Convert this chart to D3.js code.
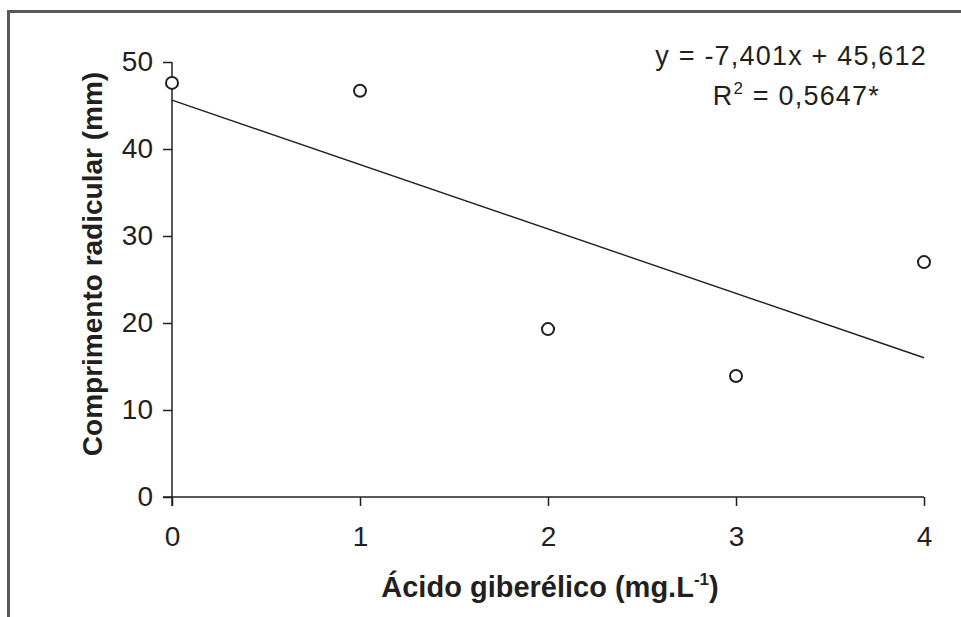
<!DOCTYPE html>
<html>
<head>
  <meta charset="utf-8">
  <title>Comprimento radicular</title>
  <script src="https://cdn.jsdelivr.net/npm/d3@7"></script>
  <style>
    body { margin: 0; background: #fff; }
    text { font-family: 'Liberation Sans', Arial, sans-serif; fill: #231f20; }
  </style>
</head>
<body>
<script>
// data
var doses = [0, 1, 2, 3, 4];
var comprimento = [47.6, 46.7, 19.3, 13.9, 27.0];
var yTicks = [0, 10, 20, 30, 40, 50];
var xTicks = [0, 1, 2, 3, 4];
var slope = -7.401, intercept = 45.612;

var width = 961, height = 617;

var svg = d3.select('body').append('svg')
  .attr('width', width)
  .attr('height', height);

// gray frame (top and left only)
svg.append('path')
  .attr('d', 'M8.5,617 V11.5 H961')
  .attr('fill', 'none')
  .attr('stroke', '#595959')
  .attr('stroke-width', 3);

var x = d3.scaleLinear().domain([0, 4]).range([172, 924]);
var y = d3.scaleLinear().domain([0, 50]).range([497, 62]);

var ink = '#231f20';

var yAxis = svg.append('g')
  .attr('transform', 'translate(172,0)')
  .call(d3.axisLeft(y).tickValues(yTicks).tickFormat(d3.format('d')).tickSize(9).tickPadding(10));

var xAxis = svg.append('g')
  .attr('transform', 'translate(0,497)')
  .call(d3.axisBottom(x).tickValues(xTicks).tickFormat(d3.format('d')).tickSize(9).tickPadding(20));

[xAxis, yAxis].forEach(function(a) {
  a.select('.domain').remove();
  a.selectAll('line').attr('stroke', ink).attr('stroke-width', 1.5);
  a.selectAll('text').attr('font-size', 28).attr('fill', ink)
    .style('font-family', "'Liberation Sans', Arial, sans-serif");
});

// axis lines
svg.append('line')
  .attr('x1', 172).attr('x2', 172).attr('y1', y(50)).attr('y2', 506)
  .attr('stroke', ink).attr('stroke-width', 1.5);
svg.append('line')
  .attr('x1', 163).attr('x2', x(4)).attr('y1', y(0)).attr('y2', y(0))
  .attr('stroke', ink).attr('stroke-width', 1.5);

// regression line
svg.append('line')
  .attr('x1', x(0)).attr('y1', y(intercept))
  .attr('x2', x(4)).attr('y2', y(intercept + slope * 4))
  .attr('stroke', ink).attr('stroke-width', 1.4);

// observed points
svg.selectAll('circle.pt')
  .data(doses)
  .enter()
  .append('circle')
  .attr('class', 'pt')
  .attr('cx', function(d) { return x(d); })
  .attr('cy', function(d, i) { return y(comprimento[i]); })
  .attr('r', 6)
  .attr('fill', '#fff')
  .attr('stroke', ink)
  .attr('stroke-width', 2);

// equation
svg.append('text')
  .attr('x', 927).attr('y', 65)
  .attr('text-anchor', 'end')
  .attr('font-size', 27)
  .attr('letter-spacing', 1.2)
  .text('y = -7,401x + 45,612');

var r2 = svg.append('text')
  .attr('x', 880).attr('y', 105)
  .attr('text-anchor', 'end')
  .attr('font-size', 27)
  .attr('letter-spacing', 1.2);
r2.append('tspan').text('R');
r2.append('tspan').attr('dy', -11).attr('font-size', 17).text('2');
r2.append('tspan').attr('dy', 11).text(' = 0,5647*');

// axis titles
svg.append('text')
  .attr('transform', 'translate(102,264) rotate(-90)')
  .attr('text-anchor', 'middle')
  .attr('font-size', 28)
  .attr('font-weight', 'bold')
  .text('Comprimento radicular (mm)');

var xt = svg.append('text')
  .attr('x', 550).attr('y', 597)
  .attr('text-anchor', 'middle')
  .attr('font-size', 29)
  .attr('font-weight', 'bold');
xt.append('tspan').text('Ácido giberélico (mg.L');
xt.append('tspan').attr('dy', -12).attr('font-size', 17).text('-1');
xt.append('tspan').attr('dy', 12).text(')');
</script>
</body>
</html>
